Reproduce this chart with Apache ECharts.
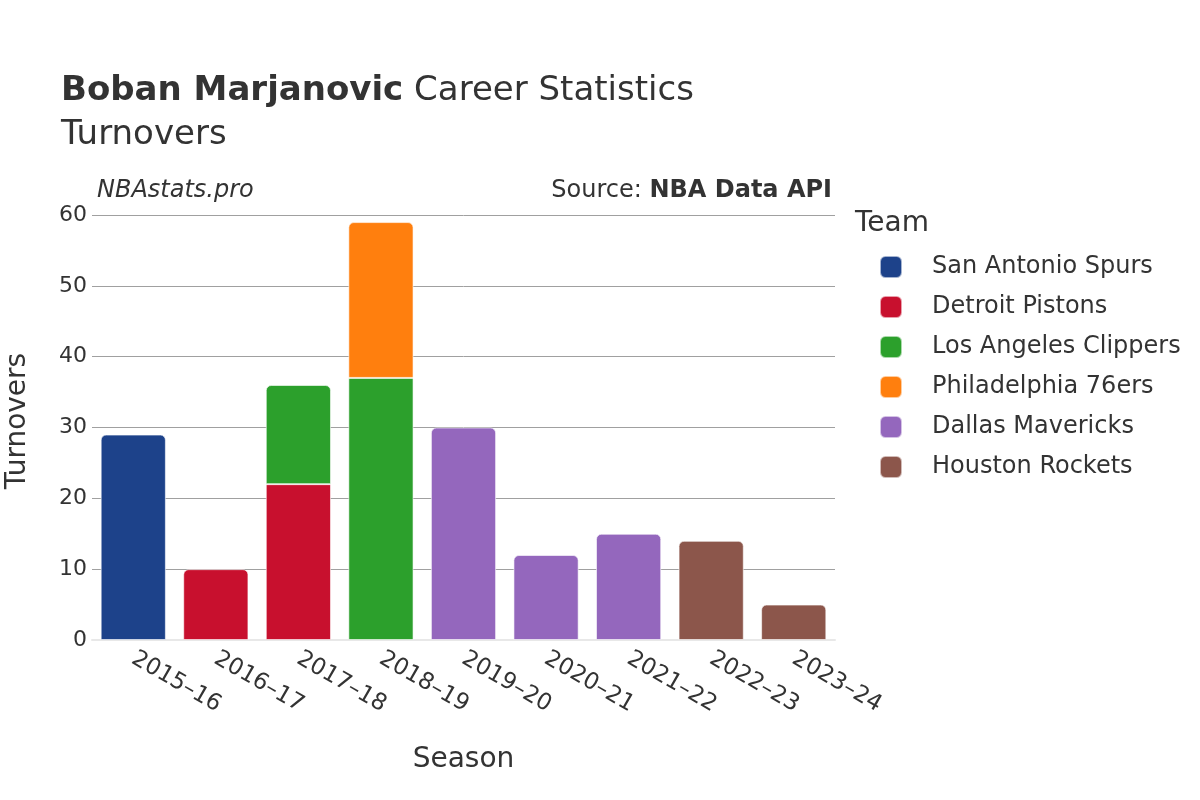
<!DOCTYPE html>
<html>
<head>
<meta charset="utf-8">
<script src="https://cdn.jsdelivr.net/npm/echarts@6/dist/echarts.min.js"></script>
<style>
  html, body { margin: 0; padding: 0; background: #fff; }
  #chart { width: 1200px; height: 800px; }
</style>
</head>
<body>
<div id="chart"></div>
<script>
// data
const seasons = ['2015–16', '2016–17', '2017–18', '2018–19', '2019–20', '2020–21', '2021–22', '2022–23', '2023–24'];
const teams = ['San Antonio Spurs', 'Detroit Pistons', 'Los Angeles Clippers', 'Philadelphia 76ers', 'Dallas Mavericks', 'Houston Rockets'];
const teamColors = ['#1d428a', '#c8102e', '#2ca02c', '#ff7f0e', '#9467bd', '#8c564b'];
const spurs    = [29, null, null, null, null, null, null, null, null];
const pistons  = [null, 10, 22, null, null, null, null, null, null];
const clippers = [null, null, 14, 37, null, null, null, null, null];
const sixers   = [null, null, null, 22, null, null, null, null, null];
const mavs     = [null, null, null, null, 30, 12, 15, null, null];
const rockets  = [null, null, null, null, null, null, null, 14, 5];
const yTicks = [0, 10, 20, 30, 40, 50, 60];

const teamValues = [spurs, pistons, clippers, sixers, mavs, rockets];
const font = 'DejaVu Sans';

// top segment of each stack gets rounded corners
const series = teams.map((name, t) => ({
  name: name,
  type: 'bar',
  stack: 'total',
  barWidth: '79%',
  itemStyle: { color: teamColors[t], borderColor: 'rgba(255,255,255,0.6)', borderWidth: 1 },
  data: teamValues[t].map((v, i) => {
    if (v == null) return null;
    let top = true;
    for (let k = t + 1; k < teamValues.length; k++) if (teamValues[k][i] != null) top = false;
    return { value: v, itemStyle: { borderRadius: top ? [5, 5, 0, 0] : 0 } };
  })
}));

var myChart = echarts.init(document.getElementById('chart'));
var option = {
  animation: false,
  textStyle: { fontFamily: font },
  title: {
    text: '{b|Boban Marjanovic} Career Statistics\nTurnovers',
    left: 56,
    top: 64,
    textStyle: {
      fontFamily: font,
      fontSize: 34,
      fontWeight: 'normal',
      color: '#333',
      lineHeight: 44,
      rich: { b: { fontFamily: font, fontSize: 34, fontWeight: 'bold', color: '#333' } }
    }
  },
  grid: { left: 92, right: 365, top: 215, bottom: 160, outerBoundsMode: 'none' },
  legend: {
    orient: 'vertical',
    left: 874,
    top: 250,
    itemWidth: 22,
    itemHeight: 22,
    itemGap: 16,
    icon: 'roundRect',
    textStyle: { fontFamily: font, fontSize: 24, lineHeight: 22, color: '#333', padding: [0, 0, 0, 25] },
    data: teams
  },
  graphic: [
    { type: 'text', left: 855, top: 210, style: { text: 'Team', font: '28px "DejaVu Sans"', fill: '#333' } },
    { type: 'text', left: 97, top: 179, style: { text: 'NBAstats.pro', font: 'italic 24px "DejaVu Sans"', fill: '#333' } },
    { type: 'text', right: 368, top: 179, style: {
        text: '{n|Source: }{b|NBA Data API}',
        rich: {
          n: { font: '24px "DejaVu Sans"', fill: '#333' },
          b: { font: 'bold 24px "DejaVu Sans"', fill: '#333' }
        }
    } },
    { type: 'text', x: 18, y: 421, rotation: Math.PI / 2, style: {
        text: 'Turnovers', font: '28px "DejaVu Sans"', fill: '#333', align: 'center', verticalAlign: 'middle'
    } }
  ],
  xAxis: {
    type: 'category',
    data: seasons,
    name: 'Season',
    nameLocation: 'middle',
    nameGap: 106,
    nameTextStyle: { fontFamily: font, fontSize: 28, color: '#333' },
    axisLine: { lineStyle: { color: '#e8e8e8', width: 2 } },
    axisTick: { show: false },
    axisLabel: { rotate: -30, fontSize: 23, color: '#333', margin: 17, fontFamily: font }
  },
  yAxis: {
    type: 'value',
    min: yTicks[0],
    max: yTicks[yTicks.length - 1],
    interval: yTicks[1] - yTicks[0],
    axisLine: { show: false },
    axisTick: { show: false },
    axisLabel: { fontSize: 22, color: '#333', margin: 5, fontFamily: font },
    splitLine: { lineStyle: { color: '#a0a0a0', width: 1 } }
  },
  series: series
};
option && myChart.setOption(option);
</script>
</body>
</html>
